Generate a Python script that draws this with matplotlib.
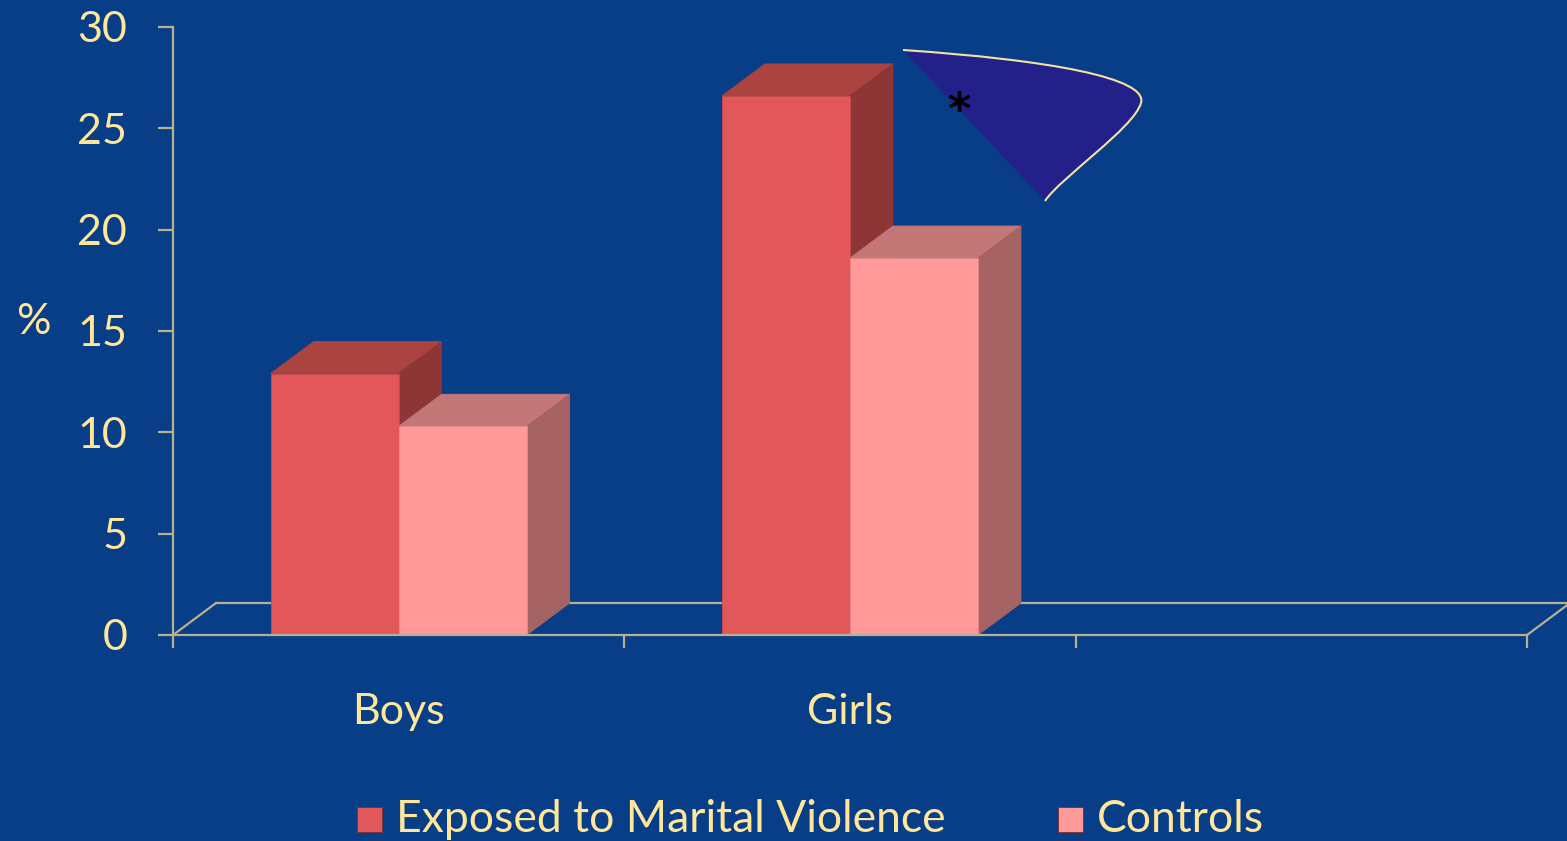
import numpy as np
import matplotlib
matplotlib.use('Agg')
import matplotlib.pyplot as plt
from matplotlib.patches import Polygon, Rectangle, PathPatch
from matplotlib.path import Path

# data
groups = ['Boys', 'Girls']
exposed = [12.9, 26.6]
controls = [10.3, 18.6]
series_names = ['Exposed to Marital Violence', 'Controls']

bg = '#083d88'
txt = '#ffe699'
axc = '#b9b08e'
front = ['#e2585a', '#ff999a']
top = ['#ab4341', '#c47777']
side = ['#8e3535', '#a56363']
edge = ['#c94a4c', '#e88888']

W, H = 1567, 841
fig = plt.figure(figsize=(W / 100, H / 100), dpi=100, facecolor=bg)
plt.rcParams['font.family'] = ['Lato', 'DejaVu Sans']
fs = 31

# axes: y=0 at px 635, y=30 at px 27; x=0 at px 173, x=3 at px 1527
ax = fig.add_axes([173 / W, 1 - 635 / H, (1527 - 173) / W, (635 - 27) / H])
ax.set_facecolor('none')
ax.set_xlim(0, 3)
ax.set_ylim(0, 30)

# depth offset of the fake 3d (px -> data)
dx = 43 / 451.3
dy = 32 / 20.27

# floor
lw = 1.6
ax.plot([dx, 3 + dx], [dy, dy], color=axc, lw=lw, zorder=0.5, clip_on=False)
ax.plot([0, dx], [0, dy], color=axc, lw=lw, zorder=0.5, clip_on=False)
ax.plot([3, 3 + dx], [0, dy], color=axc, lw=lw, zorder=0.5, clip_on=False)

bw = 128 / 451.3


def bar3d(x0, v, k):
    ax.add_patch(Polygon([(x0, v), (x0 + dx, v + dy), (x0 + bw + dx, v + dy), (x0 + bw, v)],
                         closed=True, fc=top[k], ec=top[k], lw=0.6, zorder=1, clip_on=False))
    ax.add_patch(Polygon([(x0 + bw, 0), (x0 + bw + dx, dy), (x0 + bw + dx, v + dy), (x0 + bw, v)],
                         closed=True, fc=side[k], ec=side[k], lw=0.6, zorder=1, clip_on=False))
    ax.add_patch(Rectangle((x0, 0), bw, v, fc=front[k], ec=edge[k], lw=0.6, zorder=1.1))


for i in range(len(groups)):
    c = i + 0.5
    bar3d(c - bw, exposed[i], 0)
    bar3d(c, controls[i], 1)

# spines / ticks
for s in ['top', 'right']:
    ax.spines[s].set_visible(False)
ax.spines['left'].set_color(axc)
ax.spines['bottom'].set_color(axc)
ax.spines['left'].set_linewidth(lw)
ax.spines['bottom'].set_linewidth(lw)
ax.spines['bottom'].set_zorder(3)

ax.set_yticks(np.arange(0, 31, 5))
ax.tick_params(axis='y', colors=axc, length=11, width=lw, pad=22, labelsize=fs, labelcolor=txt)
ax.set_xticks([0, 1, 2, 3])
ax.set_xticklabels([])
ax.tick_params(axis='x', which='major', colors=axc, length=9.5, width=lw)
ax.set_xticks([0.5, 1.5], minor=True)
ax.set_xticklabels(groups, minor=True)
ax.tick_params(axis='x', which='minor', length=0, pad=42, labelsize=fs, labelcolor=txt)

fig.text(33 / W, 1 - 322 / H, '%', color=txt, fontsize=fs, ha='center', va='center')

# legend
sq = 25
for k, (x_sq, name) in enumerate(zip([357, 1058], series_names)):
    fig.patches.append(Rectangle((x_sq / W, 1 - 832 / H), sq / W, sq / H, transform=fig.transFigure,
                                 fc=front[k], ec='#7a3030', lw=0.6))
    fig.text((x_sq + 39) / W, 1 - 820 / H, name, color=txt, fontsize=32, ha='left', va='center')

# callout shape
def fp(x, y):
    return (x / W, 1 - y / H)

verts = [fp(903, 50), fp(1050, 60), fp(1148, 78), fp(1141, 103),
         fp(1134, 128), fp(1060, 178), fp(1045, 201), fp(903, 50)]
codes = [Path.MOVETO, Path.CURVE4, Path.CURVE4, Path.CURVE4,
         Path.CURVE4, Path.CURVE4, Path.CURVE4, Path.LINETO]
fig.patches.append(PathPatch(Path(verts, codes), transform=fig.transFigure,
                             fc='#23208a', ec='none'))
edge_path = Path(verts[:7], codes[:7])
fig.patches.append(PathPatch(edge_path, transform=fig.transFigure, fc='none', ec='#f3e3a0', lw=1.5))
fig.text(959 / W, 1 - 112 / H, '*', color='black', fontsize=32, fontweight='bold',
         family='DejaVu Sans', ha='center', va='center')

fig.savefig('out.png', dpi=100, facecolor=bg)
